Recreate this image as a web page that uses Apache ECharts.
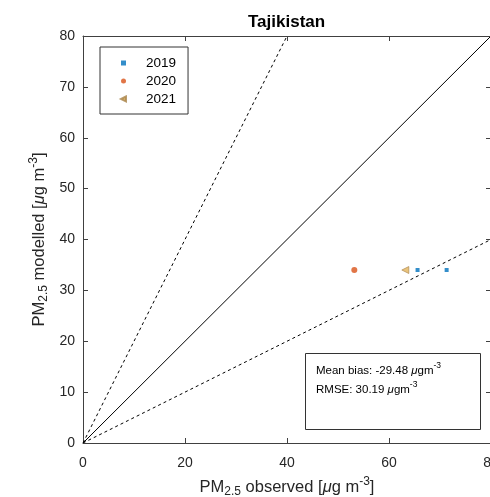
<!DOCTYPE html>
<html>
<head>
<meta charset="utf-8">
<script src="https://cdn.jsdelivr.net/npm/echarts@6/dist/echarts.min.js"></script>
<style>html,body{margin:0;padding:0;background:#fff;}#c{width:490px;height:497px;}</style>
</head>
<body>
<div id="c"></div>
<script>
// Data
const title = 'Tajikistan';
const obs2019 = [65.6, 71.3];
const mod2019 = [34.0, 34.0];
const obs2020 = [53.2];
const mod2020 = [34.0];
const obs2021 = [63.2];
const mod2021 = [34.0];
const xTicks = [0, 20, 40, 60, 80];
const yTicks = [0, 10, 20, 30, 40, 50, 60, 70, 80];
const oneToOne = [[0, 0], [80, 80]];
const twoToOne = [[0, 0], [40, 80]];
const oneToTwo = [[0, 0], [80, 40]];
const statsMeanBias = '-29.48';
const statsRMSE = '30.19';

const pairs = (xs, ys) => xs.map((x, i) => [x, ys[i]]);
const font = 'Liberation Sans, Arial, sans-serif';
const axisCol = '#404040';
const txtCol = '#262626';
const triLeft = 'path://M10,0L0,5L10,10Z';

const chart = echarts.init(document.getElementById('c'));
const rich = {
  n: {fontSize: 16.5, fontFamily: font, color: txtCol, lineHeight: 22, verticalAlign: 'middle'},
  sub: {fontSize: 12, fontFamily: font, color: txtCol, lineHeight: 10, verticalAlign: 'bottom'},
  sup: {fontSize: 12, fontFamily: font, color: txtCol, lineHeight: 10, verticalAlign: 'top'},
  it: {fontSize: 16.5, fontFamily: font, color: txtCol, fontStyle: 'italic', lineHeight: 22, verticalAlign: 'middle'}
};
const baseAxis = {
  min: 0, max: 80,
  axisLine: {show: true, onZero: false, lineStyle: {color: axisCol, width: 1}},
  axisTick: {show: true, inside: true, length: 5, lineStyle: {color: axisCol}},
  splitLine: {show: false}
};
chart.setOption({
  animation: false,
  backgroundColor: '#fff',
  title: {
    text: title, left: 248, top: 14, padding: 0,
    textStyle: {fontSize: 17, fontWeight: 'bold', fontFamily: font, color: '#000'}
  },
  grid: {left: 83, top: 36, width: 408, height: 407, outerBoundsMode: 'none', containLabel: false},
  xAxis: [
    Object.assign({}, baseAxis, {
      type: 'value', position: 'bottom', interval: 20,
      axisLabel: {fontSize: 14, fontFamily: font, color: txtCol, margin: 13},
      name: '{n|PM}{sub|2.5}{n| observed [}{it|μ}{n|g m}{sup|-3}{n|]}',
      nameLocation: 'middle', nameGap: 33,
      nameTextStyle: {rich: rich}
    }),
    Object.assign({}, baseAxis, {
      type: 'value', position: 'top', interval: 20, axisLabel: {show: false}
    })
  ],
  yAxis: [
    Object.assign({}, baseAxis, {
      type: 'value', position: 'left', interval: 10,
      axisLabel: {fontSize: 14, fontFamily: font, color: txtCol, margin: 8},
      name: '{n|PM}{sub|2.5}{n| modelled [}{it|μ}{n|g m}{sup|-3}{n|]}',
      nameLocation: 'middle', nameGap: 33, nameRotate: 90, nameMoveOverlap: false,
      nameTextStyle: {rich: rich}
    }),
    Object.assign({}, baseAxis, {
      type: 'value', position: 'right', interval: 10, axisLabel: {show: false}
    })
  ],
  legend: {
    orient: 'vertical', left: 100, top: 47,
    data: [
      {name: '2019', icon: 'rect'},
      {name: '2020', icon: 'circle'},
      {name: '2021', icon: triLeft}
    ],
    backgroundColor: '#fff', borderColor: '#333', borderWidth: 1, borderRadius: 0,
    padding: [9, 12, 8, 20], itemGap: 4, itemWidth: 5, itemHeight: 5,
    textStyle: {fontSize: 13.5, fontFamily: font, color: '#000', padding: [0, 0, 0, 15]}
  },
  series: [
    {type: 'line', data: oneToOne, symbol: 'none', silent: true, z: 1,
     lineStyle: {color: '#000', width: 1}},
    {type: 'line', data: twoToOne, symbol: 'none', silent: true, z: 1,
     lineStyle: {color: '#000', width: 1, type: [3, 3]}},
    {type: 'line', data: oneToTwo, symbol: 'none', silent: true, z: 1,
     lineStyle: {color: '#000', width: 1, type: [3, 3]}},
    {name: '2019', type: 'scatter', data: pairs(obs2019, mod2019), symbol: 'rect', symbolSize: 4,
     itemStyle: {color: '#0072BD'}, z: 3},
    {name: '2020', type: 'scatter', data: pairs(obs2020, mod2020), symbol: 'circle', symbolSize: 6,
     itemStyle: {color: '#D95319'}, z: 3},
    {name: '2021', type: 'scatter', data: pairs(obs2021, mod2021), symbol: triLeft, symbolSize: 7,
     itemStyle: {color: '#E3B45A', borderColor: '#A8834A', borderWidth: 0.8}, z: 3}
  ],
  graphic: [
    {type: 'rect', left: 305, top: 353, shape: {width: 175, height: 76},
     style: {fill: '#fff', stroke: '#333', lineWidth: 1}, z: 10},
    {type: 'text', left: 316, top: 361, z: 11,
     style: {
       text: '{a|Mean bias: ' + statsMeanBias + ' }{i|μ}{a|gm}{s|-3}\n{a|RMSE: ' + statsRMSE + ' }{i|μ}{a|gm}{s|-3}',
       rich: {
         a: {fontSize: 11.5, fontFamily: font, fill: '#000', lineHeight: 19, verticalAlign: 'middle'},
         i: {fontSize: 11.5, fontFamily: font, fill: '#000', fontStyle: 'italic', lineHeight: 19, verticalAlign: 'middle'},
         s: {fontSize: 8.5, fontFamily: font, fill: '#000', lineHeight: 9, verticalAlign: 'top'}
       }
     }}
  ]
});
</script>
</body>
</html>
